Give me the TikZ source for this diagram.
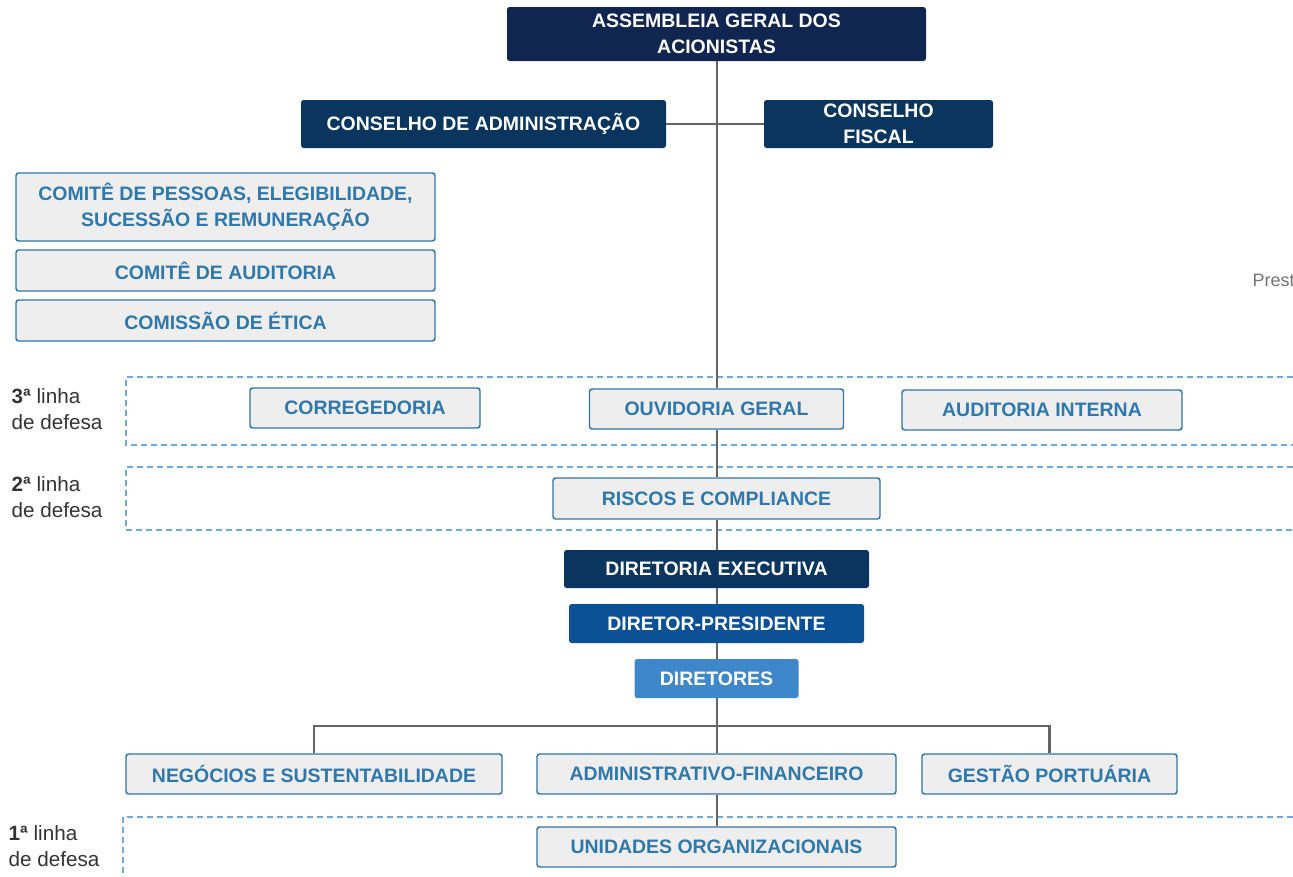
\documentclass[tikz,border=0pt]{standalone}
\usepackage{fontspec}
\setmainfont{Liberation Sans}
\usetikzlibrary{positioning}

\definecolor{navy}{HTML}{10254F}
\definecolor{conselho}{HTML}{0A355F}
\definecolor{presid}{HTML}{0C5096}
\definecolor{diret}{HTML}{3F87CB}
\definecolor{caixa}{HTML}{EEEEEE}
\definecolor{borda}{HTML}{2F76A6}
\definecolor{texto}{HTML}{2F78AC}
\definecolor{conector}{HTML}{646464}
\definecolor{tracejado}{HTML}{6FA8DC}

\tikzset{
    base/.style={rounded corners=2pt, align=center, inner sep=0pt,
        font=\bfseries\fontsize{14.6}{19.5}\selectfont},
    darkbox/.style={base, fill=#1, text=white},
    lightbox/.style={base, fill=caixa, draw=borda, line width=1.1pt, text=texto},
    conn/.style={draw=conector, line width=1.5pt},
    faixa/.style={draw=tracejado, line width=1.1pt, dash pattern=on 4.5pt off 3pt},
    rotulo/.style={anchor=west, align=left, text=black!80,
        font=\fontsize{15.5}{19.5}\selectfont}
}

\begin{document}
\begin{tikzpicture}[x=0.75pt,y=-0.75pt]
    \useasboundingbox (0,0) rectangle (1293,876);

    % faixas das linhas de defesa
    \draw[faixa] (1293,377) -- (126,377) -- (126,445) -- (1293,445);
    \draw[faixa] (1293,467) -- (126,467) -- (126,530) -- (1293,530);
    \draw[faixa] (1293,817) -- (123,817) -- (123,876);

    \node[rotulo] (l3) at (7,409) {\textbf{3ª} linha\\de defesa};
    \node[rotulo] (l2) at (7,497) {\textbf{2ª} linha\\de defesa};
    \node[rotulo] (l1) at (4,846) {\textbf{1ª} linha\\de defesa};

    % governanca
    \node[darkbox=navy, minimum width=314.25pt, minimum height=40.5pt] (asm) at (716.5,34)
        {ASSEMBLEIA GERAL DOS\\ACIONISTAS};
    \node[darkbox=conselho, minimum width=273.75pt, minimum height=36pt] (cadm) at (483.5,124)
        {CONSELHO DE ADMINISTRAÇÃO};
    \node[darkbox=conselho, minimum width=171.75pt, minimum height=36pt] (cfis) at (878.5,124)
        {CONSELHO\\FISCAL};

    \node[lightbox, minimum width=314.25pt, minimum height=51pt] (cpes) at (225.5,207)
        {COMITÊ DE PESSOAS, ELEGIBILIDADE,\\SUCESSÃO E REMUNERAÇÃO};
    \node[lightbox, minimum width=314.25pt, minimum height=30.75pt] (caud) at (225.5,270.5)
        {COMITÊ DE AUDITORIA};
    \node[lightbox, minimum width=314.25pt, minimum height=30.75pt] (cet) at (225.5,320.5)
        {COMISSÃO DE ÉTICA};

    \node[anchor=west, text=black!55, font=\fontsize{13.5}{16}\selectfont] (prest) at (1248,280) {Prest};

    % 3a e 2a linha
    \node[lightbox, minimum width=172.5pt, minimum height=30pt] (corr) at (365,408) {CORREGEDORIA};
    \node[lightbox, minimum width=190.5pt, minimum height=30pt] (ouv) at (716.5,409) {OUVIDORIA GERAL};
    \node[lightbox, minimum width=210pt, minimum height=30pt] (audi) at (1042,410) {AUDITORIA INTERNA};
    \node[lightbox, minimum width=245.25pt, minimum height=30.75pt] (risc) at (716.5,498.5) {RISCOS E COMPLIANCE};

    % diretoria
    \node[darkbox=conselho, minimum width=228.75pt, minimum height=28.5pt] (dex) at (716.5,569) {DIRETORIA EXECUTIVA};
    \node[darkbox=presid, minimum width=221.25pt, minimum height=29.25pt] (dpres) at (716.5,623.5) {DIRETOR-PRESIDENTE};
    \node[darkbox=diret, minimum width=123pt, minimum height=29.25pt] (dir) at (716.5,678.5) {DIRETORES};

    \node[lightbox, minimum width=282pt, minimum height=30pt] (neg) at (314,774) {NEGÓCIOS E SUSTENTABILIDADE};
    \node[lightbox, minimum width=269.25pt, minimum height=30pt] (adm) at (716.5,774) {ADMINISTRATIVO-FINANCEIRO};
    \node[lightbox, minimum width=191.25pt, minimum height=30pt] (gest) at (1049.5,774) {GESTÃO PORTUÁRIA};
    \node[lightbox, minimum width=269.25pt, minimum height=30pt] (uni) at (716.5,847) {UNIDADES ORGANIZACIONAIS};

    % conectores
    \coordinate (bus) at (716.5,726);
    \draw[conn] (cadm) -- (cfis);
    \draw[conn] (asm) -- (ouv);
    \draw[conn] (ouv) -- (risc);
    \draw[conn] (risc) -- (dex);
    \draw[conn] (dex) -- (dpres);
    \draw[conn] (dpres) -- (dir);
    \draw[conn] (dir) -- (adm);
    \draw[conn, line width=1.9pt] (neg.north) |- (bus) -| (gest.north);
    \draw[conn] (adm) -- (uni);
\end{tikzpicture}
\end{document}
